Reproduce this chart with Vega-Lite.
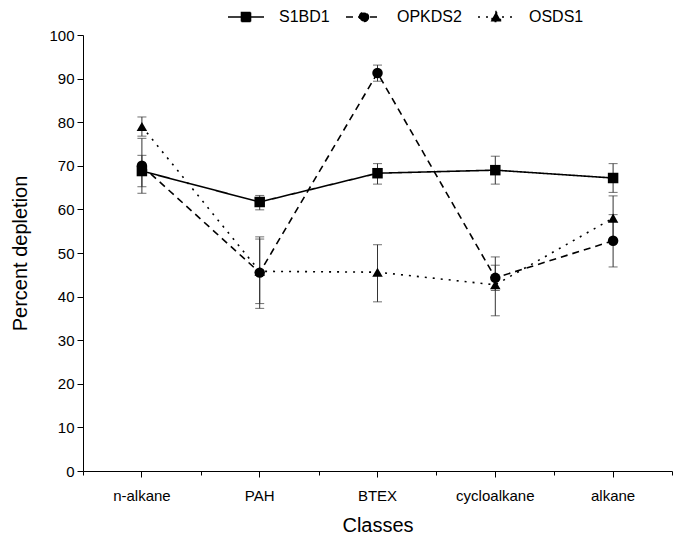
{
  "$schema": "https://vega.github.io/schema/vega-lite/v6.json",
  "width": 589,
  "height": 436,
  "autosize": {"type": "none"},
  "padding": {"left": 83, "top": 35, "right": 1, "bottom": 66},
  "background": "white",
  "config": {
    "view": {"stroke": null},
    "font": "Liberation Sans",
    "axis": {"labelColor": "black", "titleColor": "black", "domainColor": "black", "tickColor": "black", "grid": false, "titleFontWeight": "normal", "labelFont": "Liberation Sans", "titleFont": "Liberation Sans"}
  },
  "data": {
    "values": [
      {"series": "S1BD1", "cls": "n-alkane", "value": 68.8, "lo": 65.2, "hi": 72.4},
      {"series": "S1BD1", "cls": "PAH", "value": 61.7, "lo": 59.9, "hi": 63.2},
      {"series": "S1BD1", "cls": "BTEX", "value": 68.3, "lo": 65.8, "hi": 70.5},
      {"series": "S1BD1", "cls": "cycloalkane", "value": 69.0, "lo": 65.8, "hi": 72.2},
      {"series": "S1BD1", "cls": "alkane", "value": 67.2, "lo": 63.9, "hi": 70.5},
      {"series": "OPKDS2", "cls": "n-alkane", "value": 70.0, "lo": 63.7, "hi": 76.3},
      {"series": "OPKDS2", "cls": "PAH", "value": 45.5, "lo": 37.3, "hi": 53.7},
      {"series": "OPKDS2", "cls": "BTEX", "value": 91.3, "lo": 89.4, "hi": 93.1},
      {"series": "OPKDS2", "cls": "cycloalkane", "value": 44.3, "lo": 41.4, "hi": 47.2},
      {"series": "OPKDS2", "cls": "alkane", "value": 52.8, "lo": 46.8, "hi": 58.8},
      {"series": "OSDS1", "cls": "n-alkane", "value": 79.0, "lo": 76.8, "hi": 81.2},
      {"series": "OSDS1", "cls": "PAH", "value": 45.8, "lo": 38.4, "hi": 53.2},
      {"series": "OSDS1", "cls": "BTEX", "value": 45.6, "lo": 38.8, "hi": 51.9},
      {"series": "OSDS1", "cls": "cycloalkane", "value": 42.7, "lo": 35.6, "hi": 49.1},
      {"series": "OSDS1", "cls": "alkane", "value": 58.0, "lo": 52.9, "hi": 63.1}
    ]
  },
  "layer": [
    {
      "mark": {"type": "rule", "color": "#333333", "strokeWidth": 1},
      "encoding": {
        "x": {"field": "cls", "type": "nominal", "sort": ["n-alkane", "PAH", "BTEX", "cycloalkane", "alkane"], "scale": {"type": "band", "paddingInner": 0, "paddingOuter": 0},
          "axis": {"orient": "bottom", "title": "Classes", "labelAngle": 0, "labelFontSize": 15, "titleFontSize": 20, "tickSize": 6, "labelPadding": 11, "titlePadding": 12}},
        "y": {"field": "lo", "type": "quantitative", "title": "Percent depletion", "scale": {"domain": [0, 100], "nice": false},
          "axis": {"values": [0, 5, 10, 15, 20, 25, 30, 35, 40, 45, 50, 55, 60, 65, 70, 75, 80, 85, 90, 95, 100], "labelExpr": "datum.value % 10 === 0 ? datum.label : ''", "tickSize": {"condition": {"test": "datum.value % 10 === 0", "value": 6}, "value": 3}, "labelFontSize": 15, "titleFontSize": 20, "labelPadding": 3, "titlePadding": 18}},
        "y2": {"field": "hi"}
      }
    },
    {
      "mark": {"type": "tick", "color": "#333333", "thickness": 1, "size": 9},
      "encoding": {
        "x": {"field": "cls", "type": "nominal", "sort": ["n-alkane", "PAH", "BTEX", "cycloalkane", "alkane"], "axis": {"orient": "bottom", "title": null, "labels": false, "tickBand": "extent", "tickSize": 4, "domain": false}},
        "y": {"field": "lo", "type": "quantitative", "title": "Percent depletion"}
      }
    },
    {
      "mark": {"type": "tick", "color": "#333333", "thickness": 1, "size": 9},
      "encoding": {
        "x": {"field": "cls", "type": "nominal", "sort": ["n-alkane", "PAH", "BTEX", "cycloalkane", "alkane"], "axis": null},
        "y": {"field": "hi", "type": "quantitative", "title": "Percent depletion"}
      }
    },
    {
      "mark": {"type": "line", "color": "black", "strokeWidth": 1.6},
      "encoding": {
        "x": {"field": "cls", "type": "nominal", "sort": ["n-alkane", "PAH", "BTEX", "cycloalkane", "alkane"], "axis": null},
        "y": {"field": "value", "type": "quantitative", "title": "Percent depletion"},
        "strokeDash": {"field": "series", "type": "nominal",
          "scale": {"domain": ["S1BD1", "OPKDS2", "OSDS1"], "range": [[1, 0], [7, 5], [2, 6]]},
          "legend": {"orient": "none", "legendX": 155, "legendY": -26, "direction": "horizontal", "title": null, "symbolSize": 81, "labelFontSize": 16, "labelColor": "black", "labelOffset": 25, "columnPadding": 12, "symbolStrokeWidth": 1.6, "symbolStrokeColor": "black", "symbolFillColor": "black",
            "encode": {"symbols": {"update": {"shape": {"signal": "datum.value === 'S1BD1' ? 'M-4,0H4M-1,-1H1V1H-1Z' : (datum.value === 'OPKDS2' ? 'M-4,0H4M1,0A1,1,0,1,1,-1,0A1,1,0,1,1,1,0Z' : 'M-4,0H4M0,-1.15L1.2,1L-1.2,1Z')"}, "fill": {"value": "black"}, "stroke": {"value": "black"}, "strokeWidth": {"value": 1.6}}}}}}
      }
    },
    {
      "transform": [{"filter": "datum.series === 'S1BD1'"}],
      "mark": {"type": "point", "shape": "square", "filled": true, "color": "black", "opacity": 1, "size": 110},
      "encoding": {
        "x": {"field": "cls", "type": "nominal", "sort": ["n-alkane", "PAH", "BTEX", "cycloalkane", "alkane"], "axis": null},
        "y": {"field": "value", "type": "quantitative", "title": "Percent depletion"}
      }
    },
    {
      "transform": [{"filter": "datum.series === 'OPKDS2'"}],
      "mark": {"type": "point", "shape": "circle", "filled": true, "color": "black", "opacity": 1, "size": 110},
      "encoding": {
        "x": {"field": "cls", "type": "nominal", "sort": ["n-alkane", "PAH", "BTEX", "cycloalkane", "alkane"], "axis": null},
        "y": {"field": "value", "type": "quantitative", "title": "Percent depletion"}
      }
    },
    {
      "transform": [{"filter": "datum.series === 'OSDS1'"}],
      "mark": {"type": "point", "shape": "triangle-up", "filled": true, "color": "black", "opacity": 1, "size": 110},
      "encoding": {
        "x": {"field": "cls", "type": "nominal", "sort": ["n-alkane", "PAH", "BTEX", "cycloalkane", "alkane"], "axis": null},
        "y": {"field": "value", "type": "quantitative", "title": "Percent depletion"}
      }
    }
  ],
  "resolve": {"axis": {"x": "independent"}}
}
